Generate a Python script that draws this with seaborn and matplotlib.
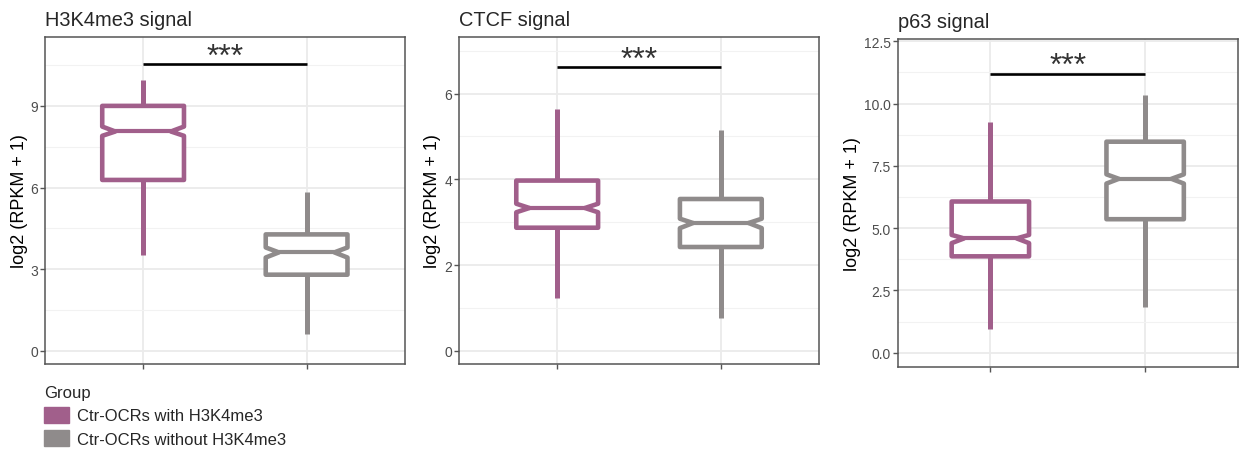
import numpy as np
import matplotlib.pyplot as plt
import matplotlib.patches as mpatches
from matplotlib.ticker import MultipleLocator
import seaborn as sns

# panel titles and groups
panels = ["H3K4me3 signal", "CTCF signal", "p63 signal"]
groups = ["Ctr-OCRs with H3K4me3", "Ctr-OCRs without H3K4me3"]

# box stats: one [with, without] pair per panel
whislo = [[3.52, 0.64], [1.23, 0.76], [0.96, 1.84]]
q1 = [[6.28, 2.80], [2.87, 2.42], [3.87, 5.36]]
med = [[8.06, 3.62], [3.33, 2.98], [4.59, 6.98]]
q3 = [[9.00, 4.28], [3.97, 3.54], [6.07, 8.47]]
whishi = [[9.96, 5.82], [5.65, 5.16], [9.27, 10.34]]
cilo = [[7.90, 3.43], [3.23, 2.86], [4.40, 6.79]]
cihi = [[8.24, 3.80], [3.43, 3.08], [4.73, 7.16]]

# significance bar heights and labels
sig_y = [10.54, 6.62, 11.2]
sig_label = ["***", "***", "***"]

sns.set_theme(style="whitegrid")
plt.rcParams["font.family"] = ["Liberation Sans", "DejaVu Sans"]

colors = ["#A15F8B", "#8F8B8B"]
edge = "#555555"
bw = 0.5

# layout: [left, bottom, width, height] in figure fraction
W, H = 1239, 464
boxes_px = [(45, 38, 404.7, 365), (459, 38, 819, 365), (897.5, 40, 1238, 368)]
ylims = [(-0.48, 11.53), (-0.31, 7.32), (-0.57, 12.59)]
steps = [3, 2, 2.5]

fig = plt.figure(figsize=(W / 100, H / 100), dpi=100)

for i, title in enumerate(panels):
    l, t, r, b = boxes_px[i]
    ax = fig.add_axes([l / W, 1 - b / H, (r - l) / W, (b - t) / H])

    stats = []
    for g in range(2):
        stats.append(dict(whislo=whislo[i][g], q1=q1[i][g], med=med[i][g],
                          q3=q3[i][g], whishi=whishi[i][g],
                          cilo=cilo[i][g], cihi=cihi[i][g], fliers=[]))
    res = ax.bxp(stats, positions=[1, 2], widths=bw, shownotches=True,
                 showfliers=False, showcaps=False, patch_artist=True)
    for g in range(2):
        c = colors[g]
        pos = g + 1
        bx = res["boxes"][g]
        # shallower notch, like the reference
        v = bx.get_path().vertices
        v[3, 0] = pos + bw * 0.34
        v[8, 0] = pos - bw * 0.34
        bx.set_facecolor("white")
        bx.set_edgecolor(c)
        bx.set_linewidth(3.3)
        bx.set_joinstyle("round")
        bx.set_zorder(3)
        for w in res["whiskers"][2 * g:2 * g + 2]:
            w.set_color(c)
            w.set_linewidth(3.6)
            w.set_solid_capstyle("butt")
            w.set_zorder(3)
        m = res["medians"][g]
        m.set_xdata([pos - bw * 0.34, pos + bw * 0.34])
        m.set_color(c)
        m.set_linewidth(3.0)
        m.set_zorder(4)

    # significance bar
    ax.plot([1, 2], [sig_y[i], sig_y[i]], color="black", lw=1.9,
            solid_capstyle="butt", zorder=5)
    ax.annotate(sig_label[i], xy=(1.5, sig_y[i]), xytext=(0, -0.5),
                textcoords="offset points", ha="center", va="baseline",
                fontsize=23, color="#333333", fontweight="light")

    ax.set_xlim(0.4, 2.6)
    ax.set_ylim(*ylims[i])
    ax.yaxis.set_major_locator(MultipleLocator(steps[i]))
    ax.yaxis.set_minor_locator(MultipleLocator(steps[i] / 2))
    ax.set_xticks([1, 2])
    ax.set_xticklabels(["", ""])
    if i == 2:
        ax.yaxis.set_major_formatter(plt.FormatStrFormatter("%.1f"))
    else:
        ax.yaxis.set_major_formatter(plt.FormatStrFormatter("%d"))

    ax.grid(True, which="major", color="#EBEBEB", lw=1.3, zorder=0)
    ax.grid(True, which="minor", axis="y", color="#F2F2F2", lw=0.8, zorder=0)
    ax.set_axisbelow(True)
    for s in ax.spines.values():
        s.set_color(edge)
        s.set_linewidth(1.1)
    ax.tick_params(axis="both", which="major", length=3.5, width=1.0,
                   color=edge, labelsize=10, labelcolor="#4D4D4D", pad=1.5,
                   left=True, bottom=True)
    ax.tick_params(which="minor", length=0)
    ax.set_xlabel("")
    ax.set_ylabel("log2 (RPKM + 1)", fontsize=13, labelpad=2, color="black")
    ax.set_title(title, loc="left", fontsize=14.4, pad=8.5)

handles = [mpatches.Patch(facecolor=colors[g], edgecolor=colors[g], label=groups[g])
           for g in range(2)]
fig.legend(handles=handles, title="Group", loc="upper left",
           bbox_to_anchor=(44 / W, 1 - 386 / H), frameon=False,
           borderaxespad=0, borderpad=0, fontsize=12, title_fontsize=12,
           handlelength=1.5, handleheight=1.1, labelspacing=0.4,
           handletextpad=0.5, alignment="left")

fig.savefig("out.png", dpi=100)
